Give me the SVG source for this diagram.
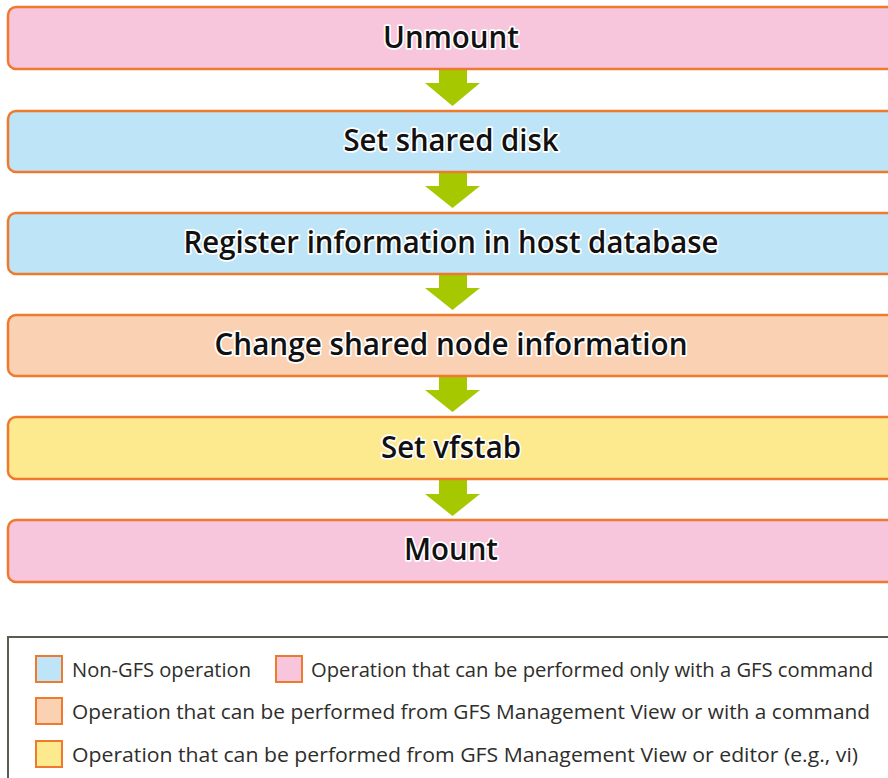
<svg xmlns="http://www.w3.org/2000/svg" width="888" height="778" viewBox="0 0 888 778">
<style>
.box{stroke:#ef7a2e;stroke-width:2.5}
.pink{fill:#f7c5dc}
.blue{fill:#bde5f7}
.peach{fill:#fad2b3}
.yellow{fill:#fde98e}
.t{font-family:"Open Sans","Liberation Sans",sans-serif;font-size:30px;font-weight:600;fill:#111111;text-anchor:middle;stroke:#ffffff;stroke-width:3.5px;stroke-linejoin:round;paint-order:stroke}
.arrow{fill:#a6c800}
.lg{font-family:"Open Sans","Liberation Sans",sans-serif;font-size:20.5px;fill:#2e2e2a}
.sw{stroke:#ef7a2e;stroke-width:2}
</style>
<g id="connectors">
<path class="arrow" d="M439,70 H467 V83 H480 L452.5,106 L425,83 H439 Z"/>
<path class="arrow" d="M439,173 H467 V186 H480 L452.5,208 L425,186 H439 Z"/>
<path class="arrow" d="M439,275 H467 V288 H480 L452.5,310 L425,288 H439 Z"/>
<path class="arrow" d="M439,377 H467 V390 H480 L452.5,412 L425,390 H439 Z"/>
<path class="arrow" d="M439,480 H467 V494 H480 L452.5,516 L425,494 H439 Z"/>
</g>
<g id="unmount">
<rect class="box pink" x="8" y="7" width="900" height="62" rx="8"/>
<text class="t" x="451" y="48" textLength="136" lengthAdjust="spacingAndGlyphs">Unmount</text>
</g>
<g id="set-shared-disk">
<rect class="box blue" x="8" y="111" width="900" height="61" rx="8"/>
<text class="t" x="451" y="151" textLength="215" lengthAdjust="spacingAndGlyphs">Set shared disk</text>
</g>
<g id="register">
<rect class="box blue" x="8" y="213" width="900" height="61" rx="8"/>
<text class="t" x="451" y="253" textLength="535" lengthAdjust="spacingAndGlyphs">Register information in host database</text>
</g>
<g id="change-shared">
<rect class="box peach" x="8" y="315" width="900" height="61" rx="8"/>
<text class="t" x="451" y="355" textLength="473" lengthAdjust="spacingAndGlyphs">Change shared node information</text>
</g>
<g id="set-vfstab">
<rect class="box yellow" x="8" y="417" width="900" height="62" rx="8"/>
<text class="t" x="451" y="458" textLength="140" lengthAdjust="spacingAndGlyphs">Set vfstab</text>
</g>
<g id="mount">
<rect class="box pink" x="8" y="520" width="900" height="62" rx="8"/>
<text class="t" x="451" y="560" textLength="94" lengthAdjust="spacingAndGlyphs">Mount</text>
</g>
<g id="legend">
<rect x="8" y="637" width="900" height="160" fill="#ffffff" stroke="#5b5b52" stroke-width="2"/>
<rect class="sw blue" x="36" y="656" width="26" height="26"/>
<text class="lg" x="72" y="677" textLength="179" lengthAdjust="spacingAndGlyphs">Non-GFS operation</text>
<rect class="sw pink" x="276" y="656" width="26" height="26"/>
<text class="lg" x="311" y="677" textLength="562" lengthAdjust="spacingAndGlyphs">Operation that can be performed only with a GFS command</text>
<rect class="sw peach" x="36" y="698" width="26" height="26"/>
<text class="lg" x="72" y="719" textLength="798" lengthAdjust="spacingAndGlyphs">Operation that can be performed from GFS Management View or with a command</text>
<rect class="sw yellow" x="36" y="741" width="26" height="26"/>
<text class="lg" x="72" y="762" textLength="786" lengthAdjust="spacingAndGlyphs">Operation that can be performed from GFS Management View or editor (e.g., vi)</text>
</g>
</svg>
